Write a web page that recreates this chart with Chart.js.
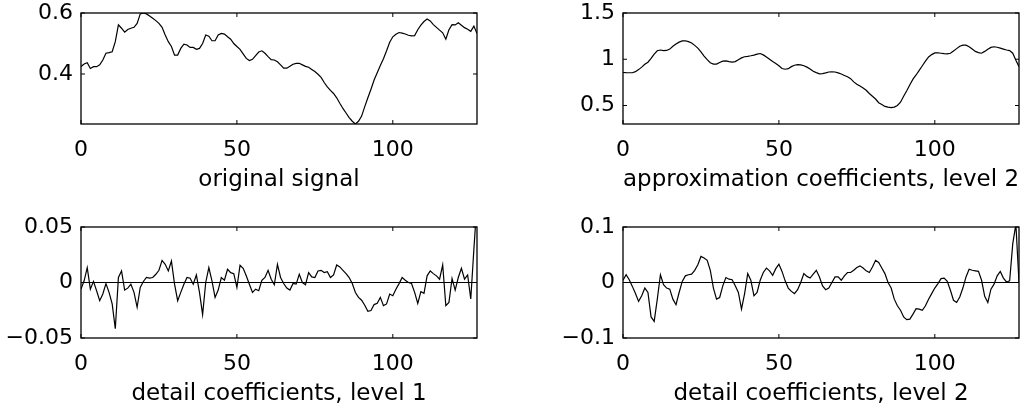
<!DOCTYPE html>
<html><head><meta charset="utf-8">
<script src="https://cdn.jsdelivr.net/npm/chart.js@4.4.1/dist/chart.umd.min.js"></script>
<style>
html,body{margin:0;padding:0;background:#fff;}
body{width:1033px;height:412px;position:relative;overflow:hidden;}
canvas{position:absolute;left:0;top:0;}
</style></head><body>
<canvas id="c1" width="1033" height="412"></canvas>
<canvas id="c2" width="1033" height="412"></canvas>
<canvas id="c3" width="1033" height="412"></canvas>
<canvas id="c4" width="1033" height="412"></canvas>
<script>
const sampleIndex = Array.from({length: 128}, (_, i) => i);
const xTickValues = [0, 50, 100];

const originalSignal = [
0.424,0.433,0.437,0.418,0.424,0.424,0.430,0.446,0.468,0.470,
0.473,0.506,0.561,0.550,0.537,0.546,0.550,0.553,0.566,0.597,
0.600,0.597,0.590,0.583,0.575,0.566,0.553,0.528,0.506,0.490,
0.462,0.462,0.484,0.498,0.495,0.487,0.487,0.481,0.484,0.500,
0.528,0.524,0.509,0.509,0.528,0.533,0.531,0.522,0.514,0.500,
0.490,0.481,0.466,0.451,0.444,0.448,0.460,0.472,0.476,0.468,
0.457,0.447,0.446,0.440,0.430,0.419,0.419,0.425,0.432,0.435,
0.435,0.430,0.425,0.422,0.415,0.408,0.399,0.389,0.372,0.358,
0.346,0.336,0.322,0.304,0.287,0.272,0.257,0.245,0.236,0.245,
0.262,0.293,0.322,0.350,0.380,0.404,0.428,0.450,0.476,0.504,
0.522,0.530,0.536,0.534,0.531,0.527,0.525,0.526,0.545,0.560,
0.572,0.580,0.574,0.562,0.553,0.544,0.535,0.514,0.545,0.562,
0.561,0.568,0.560,0.552,0.547,0.540,0.557,0.533];

const approxLevel2 = [
0.857,0.855,0.854,0.854,0.866,0.888,0.915,0.945,0.968,1.010,
1.055,1.092,1.100,1.094,1.095,1.110,1.140,1.165,1.185,1.198,
1.200,1.190,1.175,1.150,1.120,1.080,1.035,0.995,0.962,0.948,
0.948,0.965,0.980,0.982,0.974,0.968,0.975,0.995,1.015,1.027,
1.032,1.038,1.045,1.055,1.062,1.047,1.025,1.000,0.975,0.955,
0.930,0.900,0.892,0.898,0.920,0.935,0.942,0.940,0.930,0.915,
0.895,0.870,0.855,0.843,0.845,0.852,0.862,0.865,0.862,0.853,
0.840,0.825,0.810,0.790,0.755,0.730,0.710,0.690,0.665,0.630,
0.600,0.570,0.530,0.510,0.490,0.482,0.478,0.483,0.500,0.535,
0.600,0.660,0.725,0.785,0.830,0.880,0.930,0.980,1.025,1.050,
1.068,1.070,1.065,1.060,1.058,1.065,1.090,1.115,1.140,1.152,
1.153,1.135,1.110,1.085,1.072,1.065,1.085,1.108,1.128,1.135,
1.130,1.120,1.110,1.100,1.094,1.065,0.990,0.920];

const detailLevel1 = [
-0.0060,0.0015,0.0134,-0.0060,0.0010,-0.0074,-0.0164,-0.0104,-0.0010,-0.0089,
-0.0193,-0.0417,0.0045,0.0104,-0.0068,-0.0051,-0.0015,-0.0089,-0.0223,-0.0045,
0.0009,0.0045,0.0039,0.0045,0.0074,0.0110,0.0199,0.0164,0.0104,0.0193,
-0.0015,-0.0164,-0.0089,-0.0015,0.0045,0.0039,-0.0015,0.0068,-0.0089,-0.0289,
0.0000,0.0134,0.0015,-0.0134,-0.0068,0.0045,0.0021,0.0119,0.0089,0.0080,
-0.0045,0.0155,0.0128,0.0060,-0.0015,-0.0089,-0.0060,-0.0074,0.0020,0.0045,
0.0110,0.0030,-0.0020,0.0164,0.0045,-0.0009,-0.0050,-0.0068,-0.0009,-0.0015,
0.0074,0.0000,-0.0020,0.0089,0.0050,0.0045,0.0104,0.0110,0.0090,0.0098,
0.0045,0.0068,0.0158,0.0140,0.0110,0.0080,0.0045,-0.0009,-0.0090,-0.0134,
-0.0160,-0.0205,-0.0259,-0.0253,-0.0199,-0.0188,-0.0134,-0.0208,-0.0193,-0.0104,
-0.0119,-0.0060,-0.0010,0.0045,0.0020,0.0000,-0.0009,-0.0089,-0.0188,-0.0083,
-0.0098,0.0060,0.0104,0.0080,0.0060,0.0030,0.0158,-0.0208,-0.0179,0.0036,
-0.0068,0.0045,0.0128,0.0030,0.0068,-0.0149,0.0300,0.0720];

const detailLevel2 = [
0.004,0.014,0.005,-0.007,-0.020,-0.034,-0.024,-0.010,-0.018,-0.062,
-0.070,-0.030,0.014,-0.004,-0.010,-0.012,-0.030,-0.040,-0.018,0.002,
0.012,0.014,0.015,0.022,0.032,0.047,0.044,0.040,0.022,-0.010,
-0.030,-0.027,-0.006,0.009,0.006,0.005,-0.006,-0.018,-0.048,-0.020,
0.016,0.004,-0.024,-0.018,0.004,0.018,0.026,0.021,0.013,0.025,
0.033,0.020,0.003,-0.010,-0.016,-0.020,-0.013,0.000,0.016,0.011,
0.008,0.015,0.022,0.010,-0.006,-0.013,-0.010,0.000,0.010,0.010,
0.004,0.012,0.018,0.018,0.022,0.027,0.030,0.026,0.021,0.018,
0.028,0.040,0.036,0.026,0.016,0.000,-0.010,-0.030,-0.042,-0.050,
-0.062,-0.067,-0.066,-0.057,-0.047,-0.048,-0.050,-0.042,-0.030,-0.020,
-0.010,-0.002,0.007,0.008,0.002,-0.014,-0.032,-0.036,-0.026,-0.010,
0.010,0.024,0.022,0.021,0.020,0.004,-0.025,-0.036,-0.012,-0.003,
0.012,0.020,0.008,0.001,0.003,0.070,0.105,0.000];

const yTicksOriginal = [0.4, 0.6];
const yTicksApprox = [0.5, 1, 1.5];
const yTicksDetail1 = [-0.05, 0, 0.05];
const yTicksDetail2 = [-0.1, 0, 0.1];

const titleOriginal = 'original signal';
const titleApprox = 'approximation coefficients, level 2';
const titleDetail1 = 'detail coefficients, level 1';
const titleDetail2 = 'detail coefficients, level 2';

const FONT = "'DejaVu Sans', sans-serif";
const W = 1033, H = 412, X_AXIS_H = 70;

const framePlugin = {
  id: 'frame',
  afterDraw(chart) {
    const {ctx, chartArea: a, scales} = chart;
    ctx.save();
    ctx.strokeStyle = '#000';
    ctx.lineWidth = 1.3;
    ctx.strokeRect(a.left, a.top, a.right - a.left, a.bottom - a.top);
    ctx.lineWidth = 1;
    const tl = 4;
    scales.x.ticks.forEach(t => {
      const px = scales.x.getPixelForValue(t.value);
      ctx.beginPath();
      ctx.moveTo(px, a.bottom); ctx.lineTo(px, a.bottom - tl);
      ctx.moveTo(px, a.top); ctx.lineTo(px, a.top + tl);
      ctx.stroke();
    });
    scales.y.ticks.forEach(t => {
      const py = scales.y.getPixelForValue(t.value);
      ctx.beginPath();
      ctx.moveTo(a.left, py); ctx.lineTo(a.left + tl, py);
      ctx.moveTo(a.right, py); ctx.lineTo(a.right - tl, py);
      ctx.stroke();
    });
    ctx.restore();
  }
};

function fmt(v) {
  return v < 0 ? '\u2212' + String(Math.abs(v)) : String(v);
}

function makePanel(id, values, yMin, yMax, yTicks, title, area, zeroLine) {
  const datasets = [{
    data: sampleIndex.map((x, i) => ({x: x, y: values[i]})),
    borderColor: '#000', borderWidth: 1.2, pointRadius: 0, tension: 0, fill: false
  }];
  if (zeroLine) {
    datasets.push({
      data: [{x: sampleIndex[0], y: 0}, {x: sampleIndex[sampleIndex.length - 1], y: 0}],
      borderColor: '#000', borderWidth: 1, pointRadius: 0, fill: false
    });
  }
  new Chart(document.getElementById(id), {
    type: 'line',
    data: {datasets},
    options: {
      responsive: false,
      animation: false,
      events: [],
      layout: {padding: {left: 0, top: area.top, right: W - area.right, bottom: H - area.bottom - X_AXIS_H}},
      plugins: {legend: {display: false}, tooltip: {enabled: false}},
      scales: {
        x: {
          type: 'linear', min: 0, max: 127,
          grid: {display: false, drawTicks: false},
          border: {display: false},
          afterBuildTicks: s => { s.ticks = xTickValues.map(v => ({value: v})); },
          afterFit: s => { s.height = X_AXIS_H; s.paddingLeft = 0; s.paddingRight = 0; },
          ticks: {color: '#000', font: {family: FONT, size: 22}, padding: 13, maxRotation: 0, autoSkip: false,
                  callback: v => fmt(v)},
          title: {display: true, text: title, color: '#000', font: {family: FONT, size: 23}, padding: 0}
        },
        y: {
          type: 'linear', min: yMin, max: yMax,
          grid: {display: false, drawTicks: false},
          border: {display: false},
          afterBuildTicks: s => { s.ticks = yTicks.map(v => ({value: v})); },
          afterFit: s => { s.width = area.left; s.paddingTop = 0; s.paddingBottom = 0; },
          ticks: {color: '#000', font: {family: FONT, size: 22}, padding: 8, autoSkip: false,
                  callback: v => fmt(v)}
        }
      }
    },
    plugins: [framePlugin]
  });
}

makePanel('c1', originalSignal, 0.236, 0.6, yTicksOriginal, titleOriginal,
  {left: 81, top: 13, right: 477, bottom: 124}, false);
makePanel('c2', approxLevel2, 0.3, 1.5, yTicksApprox, titleApprox,
  {left: 623, top: 13, right: 1019, bottom: 124}, false);
makePanel('c3', detailLevel1, -0.05, 0.05, yTicksDetail1, titleDetail1,
  {left: 81, top: 227, right: 477, bottom: 338}, true);
makePanel('c4', detailLevel2, -0.1, 0.1, yTicksDetail2, titleDetail2,
  {left: 623, top: 227, right: 1019, bottom: 338}, true);
</script>
</body></html>
